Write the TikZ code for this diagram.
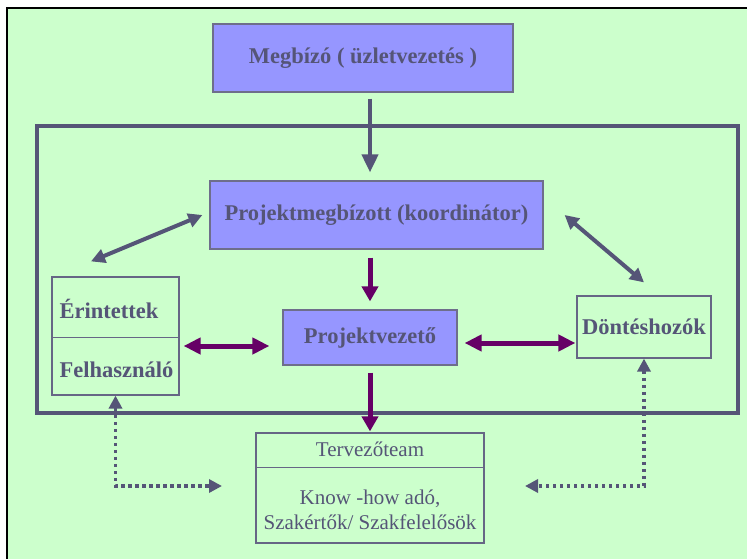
\documentclass[tikz,border=0pt]{standalone}
\usepackage{fontspec}
\setmainfont{Liberation Serif}
\usepackage{tikz}
\usetikzlibrary{positioning,arrows.meta,calc}
\definecolor{bggreen}{HTML}{CCFFCC}
\definecolor{boxblue}{HTML}{9696FF}
\definecolor{slate}{HTML}{555577}
\definecolor{plum}{HTML}{660066}

\begin{document}
\begin{tikzpicture}[x=1pt,y=-1pt,
  bigfont/.style={font=\fontsize{22.5}{26}\selectfont\bfseries,text=slate},
  bluebox/.style={bigfont,draw=slate!85,line width=1.2pt,fill=boxblue,inner sep=0pt},
  plainbox/.style={draw=slate!90,line width=1.2pt,inner sep=0pt},
  grayarr/.style={draw=slate,line width=4pt,-{Triangle[length=18pt,width=16pt]}},
  diagarr/.style={draw=slate,line width=4pt,{Triangle[length=14pt,width=14pt]}-{Triangle[length=14pt,width=14pt]}},
  purplearr/.style={draw=plum,line width=5pt,-{Triangle[length=15pt,width=16pt]}},
  purpledbl/.style={draw=plum,line width=5pt,{Triangle[length=17pt,width=16pt]}-{Triangle[length=17pt,width=16pt]}},
  dotarr/.style={draw=slate,line width=3.5pt,dash pattern=on 3.5pt off 3.5pt,{Triangle[length=13pt,width=13pt]}-{Triangle[length=13pt,width=13pt]}}]
\useasboundingbox (0,0) rectangle (747,559);
\fill[white] (0,0) rectangle (747,559);
\fill[bggreen] (6,7) rectangle (747,559);
\fill[black] (6,7) rectangle (747,9.5);
\fill[black] (5.5,7) rectangle (8,559);
\draw[slate,line width=4.5pt] (37,126) rectangle (738,413);

\node[bluebox,minimum width=300,minimum height=68] (mb) at (363,58) {Megbízó ( üzletvezetés )};
\node[bluebox,minimum width=333,minimum height=68] (pm) at (376.5,215) {Projektmegbízott (koordinátor)};
\node[bluebox,minimum width=174,minimum height=55] (pv) at (370,337.5) {Projektvezető};
\node[plainbox,minimum width=127,minimum height=118] (er) at (115.5,336) {};
\node[plainbox,bigfont,minimum width=134,minimum height=62] (dh) at (644,327) {Döntéshozók};
\node[plainbox,minimum width=228,minimum height=110] (tt) at (370,488) {};

\draw[plainbox] ($(er.north west)+(0,61)$) -- ($(er.north east)+(0,61)$);
\node[bigfont,anchor=west,inner sep=0pt] (er1) at ($(er.north west)+(8,33)$) {Érintettek};
\node[bigfont,anchor=west,inner sep=0pt] (er2) at ($(er.north west)+(8,93)$) {Felhasználó};

\draw[plainbox] ($(tt.north west)+(0,35)$) -- ($(tt.north east)+(0,35)$);
\node[text=slate,font=\fontsize{21}{25}\selectfont,inner sep=0pt] (tt1) at ($(tt.north)+(0,17)$) {Tervezőteam};
\node[text=slate,font=\fontsize{21}{25}\selectfont,inner sep=0pt,align=center] (tt2) at ($(tt.north)+(0,77)$) {Know -how adó,\\Szakértők/ Szakfelelősök};

\coordinate (tl) at (222,486);
\coordinate (tr) at (525,486);

\draw[grayarr,shorten <=6pt,shorten >=8pt] (mb.south -| pv.north) -- (pm.north -| pv.north);
\draw[purplearr,shorten <=8pt,shorten >=8pt] (pm.south -| pv.north) -- (pv.north);
\draw[purplearr,shorten <=7pt,shorten >=1pt] (pv.south) -- (tt.north);
\draw[purpledbl] ($(er.east |- pv.west)+(4,8.5)$) -- ($(pv.west)+(-13,8.5)$);
\draw[purpledbl] ($(pv.east)+(7,5.5)$) -- ($(dh.west |- pv.east)+(-1,5.5)$);
\draw[diagarr] ($(er.north)+(-24.5,-15)$) -- ($(pm.west)+(-7,0)$);
\draw[diagarr] ($(pm.east)+(21,0)$) -- ($(dh.north)+(0,-13)$);
\draw[dotarr] (er.south) |- (tl);
\draw[dotarr] (dh.south) |- (tr);
\end{tikzpicture}
\end{document}
